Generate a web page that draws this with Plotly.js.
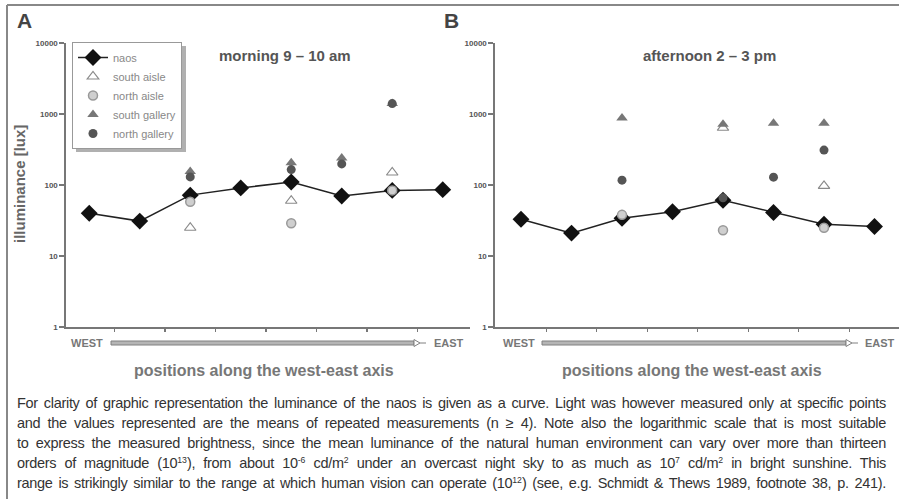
<!DOCTYPE html>
<html>
<head>
<meta charset="utf-8">
<script src="https://cdn.plot.ly/plotly-3.0.1.min.js"></script>
<style>
  html, body { margin: 0; padding: 0; background: #fff; overflow: hidden; }
  #chart { position: absolute; left: 0; top: 0; width: 899px; height: 499px; }
  #caption { position: absolute; left: 17px; top: 393px; width: 869px;
    font-family: "Liberation Sans", Arial, sans-serif; font-size: 14.5px; line-height: 20px;
    color: #333; letter-spacing: -0.3px; }
  #caption div { text-align: justify; text-align-last: justify; white-space: nowrap; }
  #caption sup { font-size: 0.6em; vertical-align: 0.55em; line-height: 0; letter-spacing: 0; }
</style>
</head>
<body>
<div id="chart"></div>
<div id="caption">
  <div>For clarity of graphic representation the luminance of the naos is given as a curve. Light was however measured only at specific points</div>
  <div>and the values represented are the means of repeated measurements (n ≥ 4). Note also the logarithmic scale that is most suitable</div>
  <div>to express the measured brightness, since the mean luminance of the natural human environment can vary over more than thirteen</div>
  <div>orders of magnitude (10<sup>13</sup>), from about 10<sup>-6</sup> cd/m<sup>2</sup> under an overcast night sky to as much as 10<sup>7</sup> cd/m<sup>2</sup> in bright sunshine. This</div>
  <div>range is strikingly similar to the range at which human vision can operate (10<sup>12</sup>) (see, e.g. Schmidt &amp; Thews 1989, footnote 38, p. 241).</div>
</div>
<script>
// ---- data ----
const positions = [1, 2, 3, 4, 5, 6, 7, 8];
const yTickValues = [1, 10, 100, 1000, 10000];
const yTickLabels = ["1", "10", "100", "1000", "10000"];

// morning 9 - 10 am (panel A)
const naosAM         = [40, 31, 72, 91, 110, 70, 84, 86];
const southAisleAM   = [null, null, 25, null, 60, null, 150, null];
const northAisleAM   = [null, null, 58, null, 29, null, 84, null];
const southGalleryAM = [null, null, 155, null, 205, 240, 1400, null];
const northGalleryAM = [null, null, 130, null, 165, 198, 1400, null];

// afternoon 2 - 3 pm (panel B)
const naosPM         = [33, 21, 34, 42, 61, 41, 28, 26];
const southAislePM   = [null, null, null, null, 640, null, 97, null];
const northAislePM   = [null, null, 38, null, 23, null, 25, null];
const southGalleryPM = [null, null, 880, null, 720, 740, 740, null];
const northGalleryPM = [null, null, 117, null, 66, 129, 310, null];

const seriesNames = ["naos", "south aisle", "north aisle", "south gallery", "north gallery"];

// ---- geometry helpers (pixels -> paper) ----
const W = 899, H = 499, T = 43, B = 172;
const PH = H - T - B;
const px = v => v / W;
const py = v => (H - B - v) / PH;

const styles = [
  {mode: "lines+markers", line: {color: "#222", width: 1.5},
   marker: {symbol: "diamond", size: 13, color: "#111", line: {width: 0}}},
  {mode: "markers", marker: {symbol: "triangle-up-open", size: 10, color: "#8a8a8a", line: {width: 1.2, color: "#8a8a8a"}}},
  {mode: "markers", marker: {symbol: "circle", size: 9, color: "#cfcfcf", line: {width: 1.5, color: "#999"}}},
  {mode: "markers", marker: {symbol: "triangle-up", size: 10, color: "#777", line: {width: 0}}},
  {mode: "markers", marker: {symbol: "circle", size: 9, color: "#555", line: {width: 0}}}
];

const am = [naosAM, southAisleAM, northAisleAM, southGalleryAM, northGalleryAM];
const pm = [naosPM, southAislePM, northAislePM, southGalleryPM, northGalleryPM];

const traces = [];
am.forEach((ys, i) => traces.push(Object.assign({
  type: "scatter", x: positions, y: ys, name: seriesNames[i], xaxis: "x", yaxis: "y",
  showlegend: true, connectgaps: false, cliponaxis: false
}, JSON.parse(JSON.stringify(styles[i])))));
pm.forEach((ys, i) => traces.push(Object.assign({
  type: "scatter", x: positions, y: ys, name: seriesNames[i], xaxis: "x2", yaxis: "y2",
  showlegend: false, connectgaps: false, cliponaxis: false
}, JSON.parse(JSON.stringify(styles[i])))));

const gray = "#777";
function yAxis(anchor) {
  return {
    type: "log", range: [0, 4], anchor: anchor, domain: [0, 1],
    tickvals: yTickValues, ticktext: yTickLabels,
    ticks: "outside", ticklen: 5, tickwidth: 1.3, tickcolor: gray,
    showline: true, linecolor: gray, linewidth: 1.6,
    showgrid: false, zeroline: false,
    tickfont: {family: "Liberation Sans, Arial", size: 8, color: "#555", weight: "bold"}
  };
}
function xAxis(anchor, dom, rng) {
  return {
    domain: dom, range: rng, anchor: anchor,
    tickvals: [1.5, 2.5, 3.5, 4.5, 5.5, 6.5, 7.5], showticklabels: false,
    ticks: "outside", ticklen: 3, tickwidth: 1.3, tickcolor: gray,
    showline: true, linecolor: gray, linewidth: 1.6,
    showgrid: false, zeroline: false
  };
}

const font = "Liberation Sans, Arial, sans-serif";
function ann(text, x, y, size, color, extra) {
  return Object.assign({
    text: text, xref: "paper", yref: "paper", x: px(x), y: py(y),
    xanchor: "center", yanchor: "middle", showarrow: false,
    font: {family: font, size: size, color: color, weight: "bold"}
  }, extra || {});
}

const annotations = [
  ann("A", 24, 20, 21, "#444"),
  ann("B", 451, 20, 21, "#444"),
  ann("morning 9 – 10 am", 285, 55, 15, "#555"),
  ann("afternoon 2 – 3 pm", 709, 55, 15, "#555"),
  ann("illuminance [lux]", 19, 184, 15, "#666", {textangle: -90}),
  ann("WEST", 87, 343, 11, "#777"),
  ann("EAST", 449, 343, 11, "#777"),
  ann("WEST", 519, 343, 11, "#777"),
  ann("EAST", 880, 343, 11, "#777"),
  ann("positions along the west-east axis", 264, 370, 16, "#777"),
  ann("positions along the west-east axis", 692, 370, 16, "#777")
];

function bar(x0, x1, y) {
  return [
    {type: "rect", xref: "paper", yref: "paper", x0: px(x0), x1: px(x1), y0: py(y - 2), y1: py(y + 2),
     fillcolor: "#b5b5b5", line: {color: "#808080", width: 1}},
    {type: "path", xref: "paper", yref: "paper",
     path: `M ${px(x1)} ${py(y - 3.5)} L ${px(x1 + 6)} ${py(y)} L ${px(x1)} ${py(y + 3.5)} Z`,
     fillcolor: "#fff", line: {color: "#808080", width: 1}},
    {type: "line", xref: "paper", yref: "paper", x0: px(x1 + 6), x1: px(x1 + 12), y0: py(y), y1: py(y),
     line: {color: "#808080", width: 1}}
  ];
}

const shapes = [
  {type: "line", xref: "paper", yref: "paper", x0: px(7), x1: px(899), y0: py(5), y1: py(5), line: {color: "#888", width: 2}},
  {type: "line", xref: "paper", yref: "paper", x0: px(7), x1: px(7), y0: py(5), y1: py(499), line: {color: "#888", width: 2}},
  // legend drop shadow
  {type: "rect", xref: "paper", yref: "paper", x0: px(76), x1: px(186), y0: py(46), y1: py(152),
   fillcolor: "#b0b0b0", line: {width: 0}, layer: "above"}
].concat(bar(111, 414, 343), bar(542, 846, 343));

const layout = {
  width: W, height: H, autosize: false,
  margin: {l: 0, r: 0, t: T, b: B, pad: 0},
  paper_bgcolor: "#fff", plot_bgcolor: "#fff",
  showlegend: true,
  legend: {x: px(72), y: py(42), xanchor: "left", yanchor: "top",
    bgcolor: "#fff", bordercolor: "#999", borderwidth: 1,
    font: {family: font, size: 11, color: "#888"}, itemwidth: 30, tracegroupgap: 0},
  xaxis: xAxis("y", [px(66), px(470)], [0.54, 8.54]),
  xaxis2: xAxis("y2", [px(495), px(899)], [0.485, 8.485]),
  yaxis: yAxis("x"),
  yaxis2: yAxis("x2"),
  annotations: annotations,
  shapes: shapes
};

Plotly.newPlot("chart", traces, layout, {displayModeBar: false, staticPlot: true});
</script>
</body>
</html>
